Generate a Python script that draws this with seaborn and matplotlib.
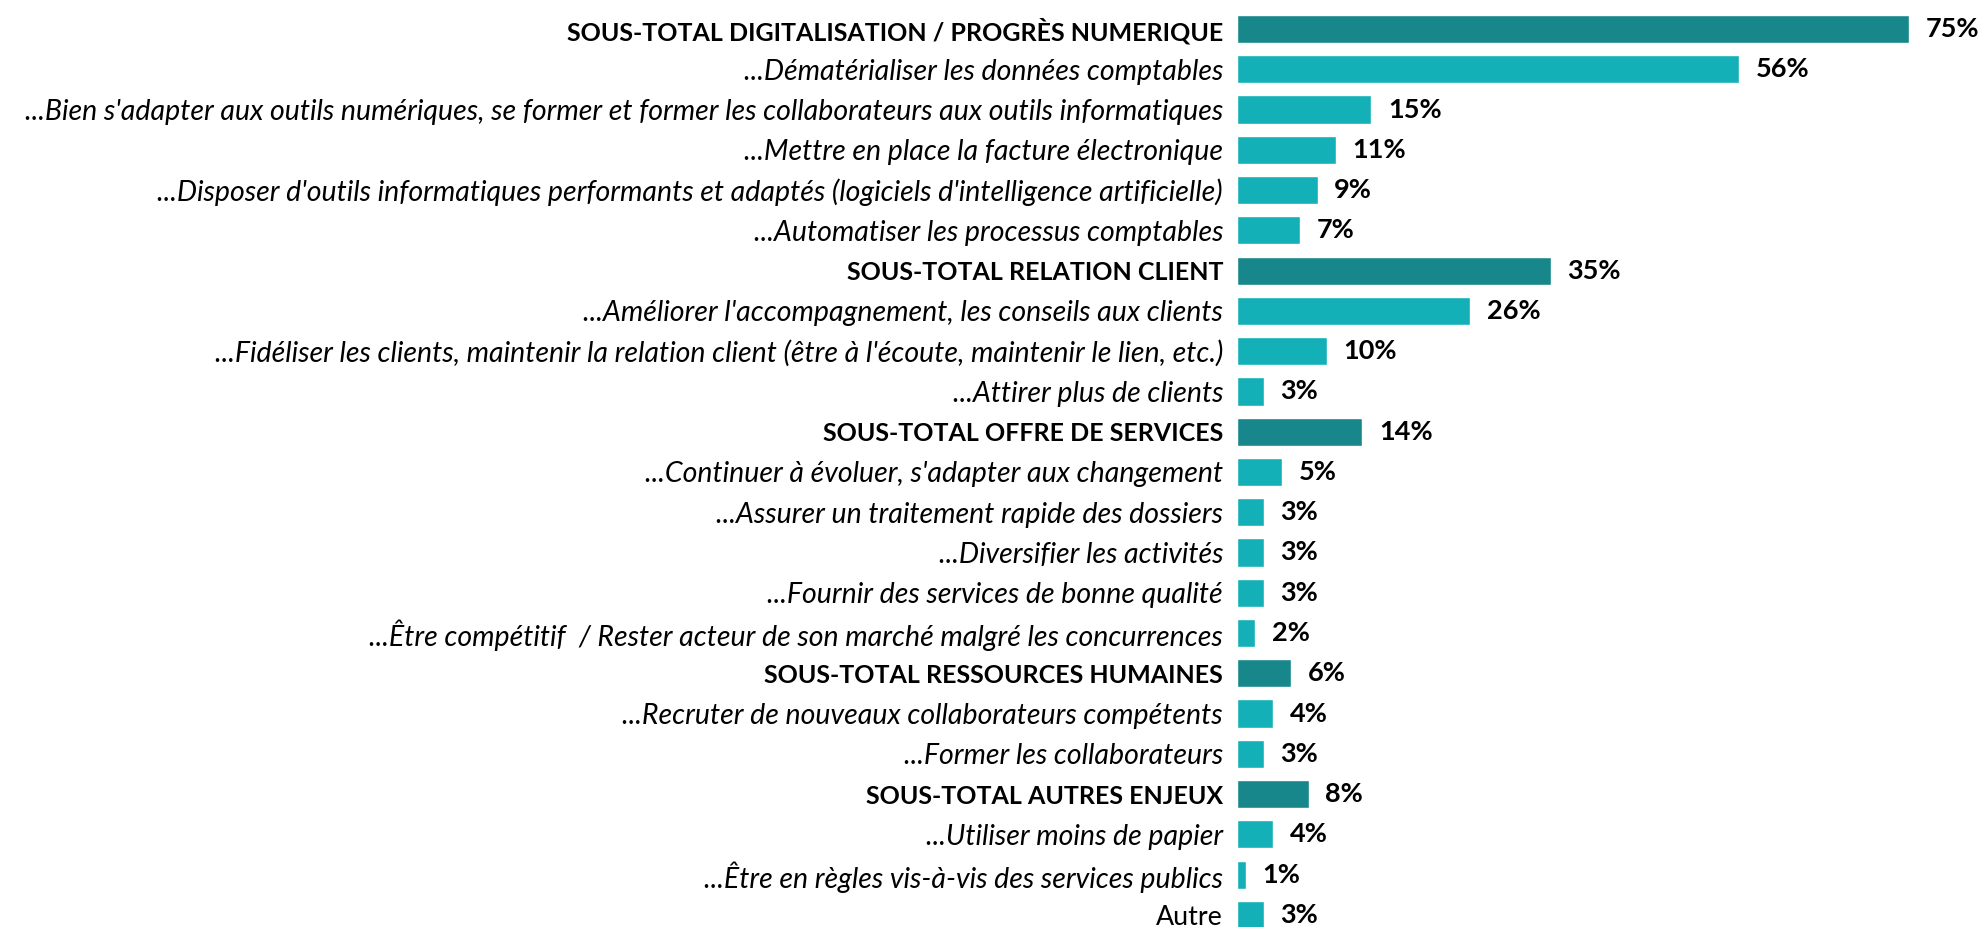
import seaborn as sns
import pandas as pd
import matplotlib.pyplot as plt

# Libellés et valeurs (%)
libelles = [
    "SOUS-TOTAL DIGITALISATION / PROGRÈS NUMERIQUE",
    "...Dématérialiser les données comptables",
    "...Bien s'adapter aux outils numériques, se former et former les collaborateurs aux outils informatiques",
    "...Mettre en place la facture électronique",
    "...Disposer d'outils informatiques performants et adaptés (logiciels d'intelligence artificielle)",
    "...Automatiser les processus comptables",
    "SOUS-TOTAL RELATION CLIENT",
    "...Améliorer l'accompagnement, les conseils aux clients",
    "...Fidéliser les clients, maintenir la relation client (être à l'écoute, maintenir le lien, etc.)",
    "...Attirer plus de clients",
    "SOUS-TOTAL OFFRE DE SERVICES",
    "...Continuer à évoluer, s'adapter aux changement",
    "...Assurer un traitement rapide des dossiers",
    "...Diversifier les activités",
    "...Fournir des services de bonne qualité",
    "...Être compétitif  / Rester acteur de son marché malgré les concurrences",
    "SOUS-TOTAL RESSOURCES HUMAINES",
    "...Recruter de nouveaux collaborateurs compétents",
    "...Former les collaborateurs",
    "SOUS-TOTAL AUTRES ENJEUX",
    "...Utiliser moins de papier",
    "...Être en règles vis-à-vis des services publics",
    "Autre",
]
valeurs = [75, 56, 15, 11, 9, 7, 35, 26, 10, 3, 14, 5, 3, 3, 3, 2, 6, 4, 3, 8, 4, 1, 3]

COULEUR_TOTAL = "#17878C"
COULEUR_DETAIL = "#14B0B8"

df = pd.DataFrame({"libelle": libelles, "valeur": valeurs})
df["total"] = df["libelle"].str.startswith("SOUS-TOTAL")
palette = {l: (COULEUR_TOTAL if t else COULEUR_DETAIL) for l, t in zip(df["libelle"], df["total"])}

sns.set_style("white")
plt.rcParams["font.family"] = ["Lato", "DejaVu Sans"]

fig = plt.figure(figsize=(19.81, 9.27), dpi=100)
ax = fig.add_axes([0.6244, 0.0, 0.371, 1.0])

sns.barplot(data=df, x="valeur", y="libelle", hue="libelle", palette=palette,
            legend=False, width=0.7, saturation=1, ax=ax, orient="h")

ax.set_xlim(0, 82)
ax.set_ylim(22.30, -0.72)
ax.set_xlabel("")
ax.set_ylabel("")
ax.set_xticks([])
ax.tick_params(axis="y", length=0, pad=10)
sns.despine(ax=ax, left=True, bottom=True)

ax.set_yticks(range(len(libelles)))
ax.set_yticklabels(libelles)
for tick, lib in zip(ax.get_yticklabels(), libelles):
    if lib.startswith("SOUS-TOTAL"):
        tick.set_fontweight("bold")
        tick.set_fontsize(18)
    elif lib.startswith("..."):
        tick.set_fontstyle("italic")
        tick.set_fontsize(20.5)
    else:
        tick.set_fontsize(19.3)
    tick.set_color("black")

# Étiquettes de valeurs
for i, v in enumerate(valeurs):
    ax.annotate(f"{v}%", xy=(v, i), xytext=(12, 0), textcoords="offset points",
                ha="left", va="center", fontsize=19.5, fontweight="bold", color="black")

plt.savefig("out.png", dpi=100)
